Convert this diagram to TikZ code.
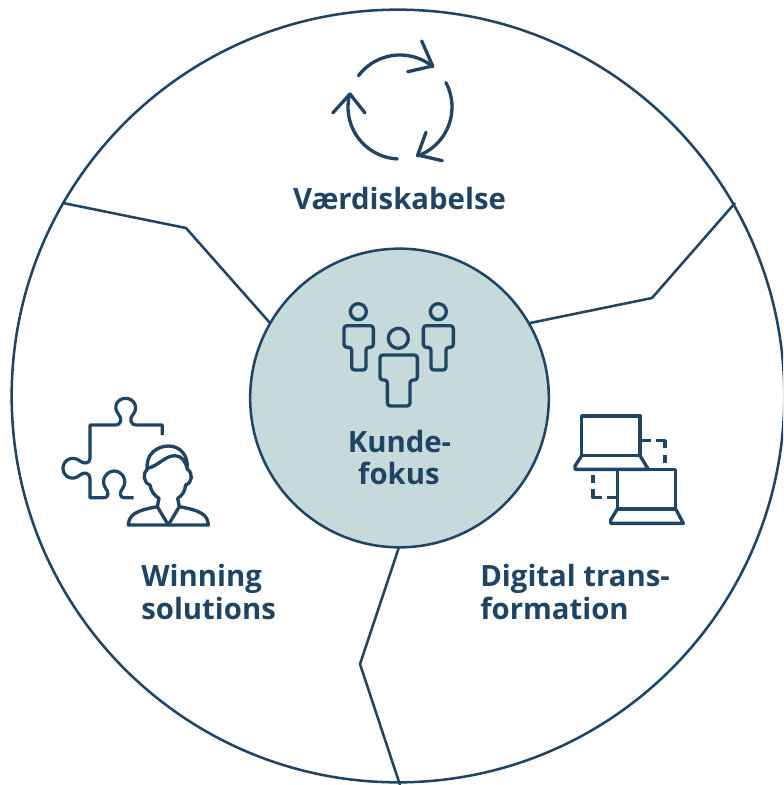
\documentclass[tikz,border=0pt]{standalone}
\usepackage{fontspec}
\setmainfont{Open Sans}
\definecolor{navy}{HTML}{1F4464}
\definecolor{hub}{HTML}{C7DADB}
\tikzset{
  outline/.style={draw=navy,line width=1.9pt},
  divider/.style={draw=navy,line width=1.9pt,line join=miter},
  icon/.style={draw=navy,line width=2.5pt,line cap=round,line join=round},
  iconthin/.style={draw=navy,line width=2.4pt,line cap=butt,line join=round},
  label/.style={text=navy,font=\fontsize{22}{27}\selectfont\bfseries,inner sep=0pt},
  zoomA/.style={shift={(#1)},x=0.25pt,y=-0.25pt},
}
\begin{document}
\begin{tikzpicture}[x=0.75pt,y=-0.75pt]
\useasboundingbox (0,0) rectangle (783,785);
\clip (0,0) rectangle (783,785);
\node[outline,fill=white,circle,minimum size=579.5pt,inner sep=0pt] (rim) at (398,396) {};
% dividers
\coordinate (a1) at (63,203); \coordinate (a2) at (186,228); \coordinate (a3) at (270,323);
\coordinate (b1) at (735,203); \coordinate (b2) at (652,298); \coordinate (b3) at (530,323);
\coordinate (c1) at (399,547); \coordinate (c2) at (360,664); \coordinate (c3) at (400,785);
\draw[divider] (a1) -- (a2) -- (a3);
\draw[divider] (b1) -- (b2) -- (b3);
\draw[divider] (c1) -- (c2) -- (c3);
\node[outline,fill=hub,circle,minimum size=224pt,inner sep=0pt] (hubnode) at (399.5,398) {};
% cycle icon
\draw[icon] plot[smooth,domain=217:309,samples=25] ({400+52*cos(\x)},{107+52*sin(\x)});
\draw[icon] plot[smooth,domain=-28:70,samples=25] ({400+52*cos(\x)},{107+52*sin(\x)});
\draw[icon] plot[smooth,domain=93:194,samples=25] ({400+52*cos(\x)},{107+52*sin(\x)});
\draw[icon] (421.7,41) -- (432.7,66) -- (407.7,71.7);
\draw[icon] (426,132.3) -- (417.7,155) -- (442.3,160.7);
\draw[icon] (332.7,113) -- (350,94) -- (365,113);
% people icon
\begin{scope}[zoomA={330,295}]
\draw[icon] (85,50) circle[radius=24];
\draw[icon] (325,50) circle[radius=24];
\draw[icon] (205,130) circle[radius=30];
\draw[icon,rounded corners=2.2pt] (42,92) -- (130,92) -- (130,157) -- (108,157) -- (108,225) -- (65,225) -- (65,157) -- (42,157) -- cycle;
\draw[icon,rounded corners=2.2pt] (280,92) -- (370,92) -- (370,157) -- (348,157) -- (348,225) -- (303,225) -- (303,157) -- (280,157) -- cycle;
\draw[icon,rounded corners=2.2pt] (150,180) -- (262,180) -- (262,255) -- (240,255) -- (240,333) -- (172,333) -- (172,255) -- (150,255) -- cycle;
\end{scope}
% puzzle and person icon
\begin{scope}[zoomA={55,390}]
\draw[iconthin] (322,135) -- (322,105) -- (245,105)
  .. controls (225,105) and (222,85) .. (235,72)
  .. controls (252,50) and (235,25) .. (212,25)
  .. controls (188,25) and (172,50) .. (190,72)
  .. controls (202,85) and (200,105) .. (180,105)
  -- (105,105) -- (105,205)
  .. controls (105,222) and (85,222) .. (75,213)
  .. controls (52,195) and (24,210) .. (24,235)
  .. controls (24,260) and (52,275) .. (75,255)
  .. controls (85,245) and (105,248) .. (105,265)
  -- (105,323) -- (145,323)
  .. controls (165,323) and (160,305) .. (152,295)
  .. controls (135,270) and (155,243) .. (178,243)
  .. controls (200,243) and (220,270) .. (203,295)
  .. controls (195,305) and (190,323) .. (210,323)
  -- (236,323);
\draw[icon] (277,240) .. controls (270,190) and (310,168) .. (340,168)
  .. controls (375,168) and (400,195) .. (397,237);
\draw[icon] (277,235) .. controls (310,228) and (330,197) .. (360,197)
  .. controls (380,197) and (392,215) .. (397,237);
\draw[icon] (277,237) .. controls (262,250) and (265,278) .. (285,285)
  .. controls (288,305) and (300,318) .. (312,325) -- (307,350)
  .. controls (240,362) and (222,375) .. (220,405) -- (460,405)
  .. controls (458,375) and (440,362) .. (373,350) -- (368,325)
  .. controls (380,318) and (390,305) .. (392,285)
  .. controls (412,278) and (415,250) .. (397,237);
\draw[icon] (307,350) -- (340,405) -- (373,350);
\end{scope}
% laptops icon
\begin{scope}[zoomA={565,405}]
\draw[icon] (50,152) -- (50,33) -- (225,33) -- (225,152) -- cycle;
\draw[icon] (50,152) -- (30,183) -- (30,193) -- (250,193) -- (225,152);
\draw[icon] (157,312) -- (157,193) -- (332,193) -- (332,312) -- cycle;
\draw[icon] (157,312) -- (137,345) -- (137,355) -- (355,355) -- (332,312);
\draw[iconthin] (228,107) -- (258,107);
\draw[iconthin] (272,107) -- (300,107) -- (300,130);
\draw[iconthin] (300,150) -- (300,175);
\draw[iconthin] (84,210) -- (84,235);
\draw[iconthin] (84,252) -- (84,278) -- (110,278);
\draw[iconthin] (125,278) -- (157,278);
\end{scope}
% labels
\node[label,anchor=base] (t1) at (399.5,209) {Værdiskabelse};
\node[label,anchor=base] (t2) at (399.5,452) {Kunde-};
\node[label,anchor=base] (t3) at (399,484) {fokus};
\node[label,anchor=base west] (t4) at (141,586) {Winning};
\node[label,anchor=base west] (t5) at (141,619) {solutions};
\node[label,anchor=base west] (t6) at (480,586) {Digital trans-};
\node[label,anchor=base west] (t7) at (480,619) {formation};
\end{tikzpicture}
\end{document}
